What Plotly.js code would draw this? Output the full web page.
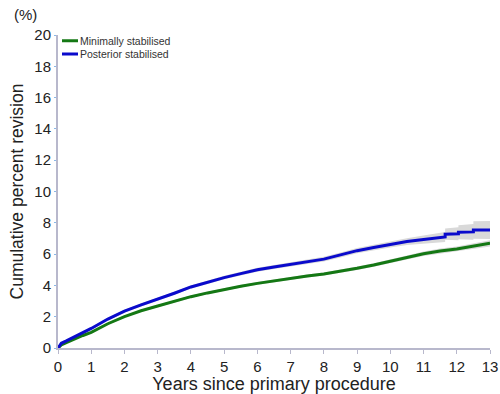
<!DOCTYPE html>
<html>
<head>
<meta charset="utf-8">
<script src="https://cdn.plot.ly/plotly-3.0.1.min.js"></script>
<style>html,body{margin:0;padding:0;background:#fff}#chart{width:500px;height:394px}</style>
</head>
<body>
<div id="chart"></div>
<script>
// Years since primary procedure
var postYears = [0,0.1,0.25,0.5,0.75,1,1.5,2,2.5,3,3.5,4,4.5,5,5.5,6,6.5,7,7.5,8,8.5,9,9.5,10,10.5,11,11.5,11.65,11.65,12.05,12.05,12.5,12.5,13];
var postValues = [0,0.3,0.45,0.7,0.95,1.25,1.85,2.35,2.75,3.1,3.5,3.9,4.2,4.5,4.75,5.0,5.18,5.35,5.5,5.68,5.95,6.22,6.42,6.62,6.8,6.94,7.05,7.1,7.27,7.3,7.4,7.42,7.54,7.54];
var postCiHalf = [0,0.05,0.06,0.07,0.08,0.08,0.09,0.09,0.1,0.1,0.1,0.1,0.11,0.11,0.12,0.12,0.13,0.13,0.14,0.15,0.16,0.17,0.18,0.2,0.22,0.25,0.3,0.32,0.36,0.42,0.45,0.5,0.56,0.58];

var minYears = [0,0.1,0.25,0.5,0.75,1,1.5,2,2.5,3,3.5,4,4.5,5,5.5,6,6.5,7,7.5,8,8.5,9,9.5,10,10.5,11,11.5,12,12.5,13];
var minValues = [0,0.2,0.35,0.6,0.8,1.0,1.55,2.0,2.38,2.68,3.0,3.28,3.52,3.75,3.95,4.13,4.3,4.45,4.6,4.73,4.9,5.09,5.3,5.52,5.78,6.02,6.2,6.33,6.52,6.69];
var minCiHalf = [0,0.04,0.05,0.05,0.06,0.06,0.06,0.07,0.07,0.07,0.07,0.08,0.08,0.08,0.08,0.09,0.09,0.09,0.1,0.1,0.1,0.11,0.11,0.12,0.13,0.14,0.15,0.16,0.18,0.2];

var seriesNames = ["Minimally stabilised", "Posterior stabilised"];
var xTicks = [0,1,2,3,4,5,6,7,8,9,10,11,12,13];
var yTicks = [0,2,4,6,8,10,12,14,16,18,20];

function band(xs, ys, hs) {
  var bx = xs.slice(), by = ys.map(function(v,i){return v + hs[i];});
  for (var i = xs.length - 1; i >= 0; i--) { bx.push(xs[i]); by.push(ys[i] - hs[i]); }
  return {x: bx, y: by};
}
var bMin = band(minYears, minValues, minCiHalf);
var bPost = band(postYears, postValues, postCiHalf);

var data = [
  {x: bMin.x, y: bMin.y, type: 'scatter', mode: 'lines', fill: 'toself', fillcolor: '#d9d9d9', line: {width: 0}, showlegend: false, hoverinfo: 'skip'},
  {x: bPost.x, y: bPost.y, type: 'scatter', mode: 'lines', fill: 'toself', fillcolor: '#d9d9d9', line: {width: 0}, showlegend: false, hoverinfo: 'skip'},
  {x: minYears, y: minValues, type: 'scatter', mode: 'lines', name: seriesNames[0], line: {color: '#147814', width: 3}},
  {x: postYears, y: postValues, type: 'scatter', mode: 'lines', name: seriesNames[1], line: {color: '#0a0acc', width: 3}}
];

var layout = {
  width: 500, height: 394,
  margin: {l: 58, r: 10, t: 35, b: 46},
  paper_bgcolor: '#fff', plot_bgcolor: '#fff',
  font: {family: 'Liberation Sans, Arial, sans-serif', color: '#222', size: 15},
  showlegend: true,
  legend: {x: 0.0, y: 1.02, xanchor: 'left', yanchor: 'top', bgcolor: 'rgba(0,0,0,0)', font: {size: 10.5, color: '#333'}, itemwidth: 30, tracegroupgap: 0},
  xaxis: {
    range: [0, 13], tickvals: xTicks, ticktext: xTicks.map(String),
    showgrid: false, zeroline: false, showline: true, linecolor: '#b8b8cc', linewidth: 2,
    ticks: 'outside', ticklen: 4, tickcolor: '#b8b8cc', tickwidth: 1,
    tickfont: {size: 15, color: '#222'},
    title: {text: 'Years since primary procedure', font: {size: 18, color: '#222'}, standoff: 2}
  },
  yaxis: {
    range: [0, 20], tickvals: yTicks, ticktext: yTicks.map(String),
    showgrid: false, zeroline: false, showline: true, linecolor: '#b8b8cc', linewidth: 2,
    ticks: 'outside', ticklen: 2, tickcolor: '#8ab8e8', tickwidth: 1,
    tickfont: {size: 15, color: '#222'},
    title: {text: 'Cumulative percent revision', font: {size: 17.5, color: '#222'}, standoff: 6}
  },
  annotations: [
    {text: '(%)', xref: 'paper', yref: 'paper', x: -0.075, y: 1.065, xanchor: 'center', yanchor: 'middle', showarrow: false, font: {size: 15, color: '#222'}}
  ]
};

Plotly.newPlot('chart', data, layout, {displayModeBar: false, staticPlot: true}).then(function(gd){
  // compact legend: shorter line samples and tighter rows, as in the reference
  var items = gd.querySelectorAll('.legend .traces');
  items.forEach(function(g, i){
    var p = g.querySelector('.legendlines path');
    if (p) p.setAttribute('d', 'M4,0h16');
    var t = g.querySelector('.legendtext');
    if (t) t.setAttribute('x', '22');
    g.setAttribute('transform', 'translate(0,' + (12 + i * 13.3) + ')');
  });
});
</script>
</body>
</html>
